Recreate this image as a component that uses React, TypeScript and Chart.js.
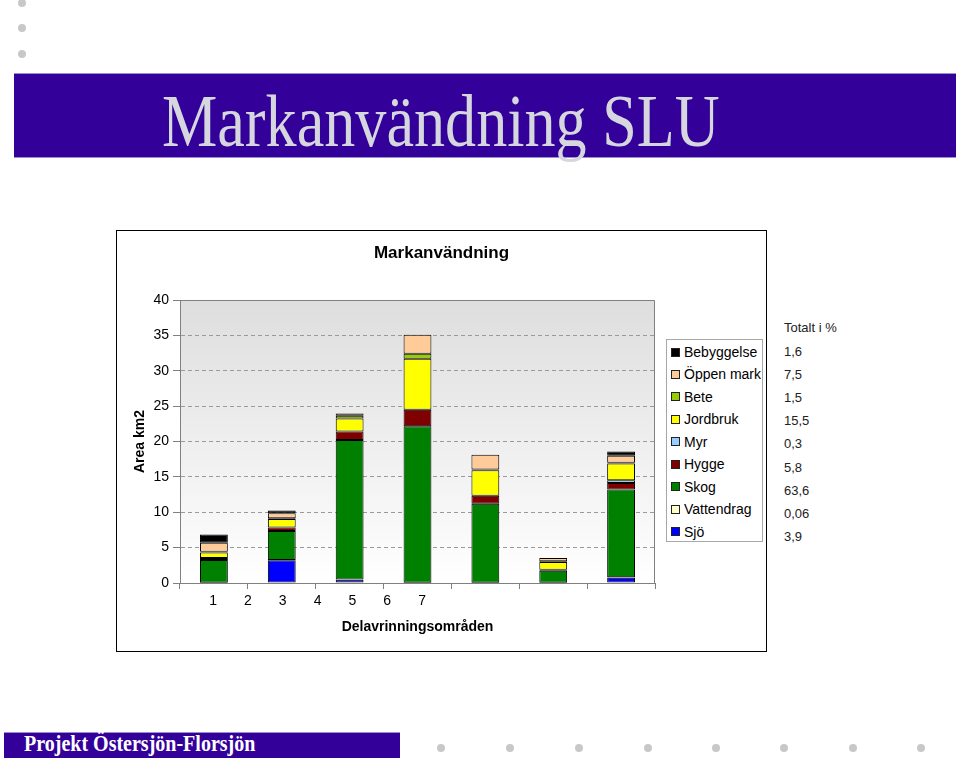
import React, { useEffect, useRef } from 'react';
import { Chart, registerables } from 'chart.js';

Chart.register(...registerables);

// ---- data ----
const categories = ['1', '2', '3', '4', '5', '6', '7'];
const xTickLabels = ['1', '2', '3', '4', '5', '6', '7'];

// stacked bottom -> top
const seriesNames = ['Sjö', 'Vattendrag', 'Skog', 'Hygge', 'Myr', 'Jordbruk', 'Bete', 'Öppen mark', 'Bebyggelse'];
const seriesColors = ['#0000FF', '#FFFFCC', '#008000', '#800000', '#99CCFF', '#FFFF00', '#99CC00', '#FFCC99', '#000000'];

const sjo = [0, 3.2, 0.45, 0, 0, 0, 0.75];
const vattendrag = [0.05, 0.05, 0.05, 0.05, 0.05, 0.03, 0.05];
const skog = [3.2, 4.1, 19.7, 22.1, 11.15, 1.7, 12.4];
const hygge = [0.3, 0.5, 1.2, 2.35, 1.13, 0.15, 0.95];
const myr = [0, 0, 0, 0, 0, 0, 0.38];
const jordbruk = [0.75, 1.2, 1.85, 7.2, 3.6, 1.1, 2.35];
const bete = [0.1, 0.1, 0.4, 0.7, 0.1, 0.1, 0.1];
const oppenMark = [1.3, 0.7, 0.3, 2.7, 2.1, 0.45, 1.0];
const bebyggelse = [1.15, 0.4, 0, 0, 0, 0, 0.6];

// legend order (top -> bottom) and "Totalt i %" column
const legendNames = ['Bebyggelse', 'Öppen mark', 'Bete', 'Jordbruk', 'Myr', 'Hygge', 'Skog', 'Vattendrag', 'Sjö'];
const totalPct = ['1,6', '7,5', '1,5', '15,5', '0,3', '5,8', '63,6', '0,06', '3,9'];

const yMin = 0;
const yMax = 40;
const yStep = 5;

const FONT = '"Liberation Sans", Arial, Helvetica, sans-serif';
const SERIF = '"Liberation Serif", "Times New Roman", serif';

export default function App() {
  const canvasRef = useRef<HTMLCanvasElement | null>(null);

  useEffect(() => {
    const canvas = canvasRef.current;
    if (!canvas) return;
    const seriesData = [sjo, vattendrag, skog, hygge, myr, jordbruk, bete, oppenMark, bebyggelse];

    const plotBg = {
      id: 'plotBg',
      beforeDraw(chart: any) {
        const { ctx, chartArea: a } = chart;
        const g = ctx.createLinearGradient(0, a.top, 0, a.bottom);
        g.addColorStop(0, '#DEDEDE');
        g.addColorStop(1, '#FFFFFF');
        ctx.save();
        ctx.fillStyle = g;
        ctx.fillRect(a.left, a.top, a.right - a.left, a.bottom - a.top);
        ctx.restore();
      },
      beforeDatasetsDraw(chart: any) {
        const { ctx, chartArea: a } = chart;
        ctx.save();
        ctx.strokeStyle = '#808080';
        ctx.lineWidth = 1;
        ctx.beginPath();
        ctx.moveTo(a.left, a.top + 0.5);
        ctx.lineTo(a.right - 0.5, a.top + 0.5);
        ctx.lineTo(a.right - 0.5, a.bottom);
        ctx.stroke();
        ctx.restore();
      },
    };

    const chart = new Chart(canvas, {
      type: 'bar',
      data: {
        labels: categories,
        datasets: seriesNames.map((name, i) => ({
          label: name,
          data: seriesData[i],
          backgroundColor: seriesColors[i],
          borderColor: '#000000',
          borderWidth: 1,
          borderSkipped: false,
          barPercentage: 0.41,
          categoryPercentage: 1,
          xAxisID: 'x',
          yAxisID: 'y',
        })),
      },
      options: {
        animation: false,
        responsive: false,
        maintainAspectRatio: false,
        layout: { padding: { top: 69, right: 111, bottom: 0, left: 0 } },
        plugins: {
          legend: { display: false },
          title: { display: false },
          tooltip: { enabled: false },
        },
        scales: {
          x: {
            type: 'category',
            stacked: true,
            position: 'bottom',
            offset: true,
            ticks: { display: false },
            grid: {
              offset: true,
              drawOnChartArea: false,
              drawTicks: true,
              tickLength: 6,
              tickColor: '#808080',
              color: '#808080',
            },
            border: { display: true, color: '#808080', width: 1 },
            afterFit(scale: any) {
              scale.height = 0;
            },
          },
          xl: {
            type: 'linear',
            axis: 'x',
            position: 'bottom',
            offset: false,
            min: 0.052,
            max: 13.688,
            grid: { display: false, drawTicks: false, offset: false },
            border: { display: false },
            afterBuildTicks(scale: any) {
              scale.ticks = xTickLabels.map((_, i) => ({ value: i + 1 }));
            },
            ticks: {
              autoSkip: false,
              padding: 10,
              color: '#000000',
              font: { family: FONT, size: 14 },
              maxRotation: 0,
              callback: (_v: any, index: number) => xTickLabels[index],
            },
            title: {
              display: true,
              text: 'Delavrinningsområden',
              color: '#000000',
              font: { family: FONT, size: 14, weight: 'bold' },
              padding: { top: 4, bottom: 15 },
            },
            afterFit(scale: any) {
              scale.height = 68;
            },
          },
          y: {
            type: 'linear',
            stacked: true,
            min: yMin,
            max: yMax,
            ticks: {
              stepSize: yStep,
              padding: 4,
              color: '#000000',
              font: { family: FONT, size: 14 },
            },
            grid: {
              color: (ctx: any) =>
                ctx.tick && (ctx.tick.value === yMin || ctx.tick.value === yMax) ? 'rgba(0,0,0,0)' : '#9A9A9A',
              lineWidth: 1,
              drawTicks: true,
              tickLength: 7,
              tickColor: '#808080',
              tickBorderDash: [],
            },
            border: { display: true, color: '#808080', width: 1, dash: [4, 3] },
            title: {
              display: true,
              text: 'Area km2',
              color: '#000000',
              font: { family: FONT, size: 14, weight: 'bold' },
              padding: { top: 15, bottom: 4 },
            },
            afterFit(scale: any) {
              scale.width = 63;
            },
          },
        },
      } as any,
      plugins: [plotBg],
    });

    return () => chart.destroy();
  }, []);

  const dot = (x: number, y: number, key: string) => (
    <div
      key={key}
      style={{
        position: 'absolute',
        left: x - 4,
        top: y - 4,
        width: 8,
        height: 8,
        borderRadius: '50%',
        background: '#C8C8C8',
      }}
    />
  );

  const topDots = [3, 28, 54];
  const bottomDots = [441, 510, 579, 648, 716, 784, 853, 921];

  return (
    <div
      style={{
        position: 'fixed',
        left: 0,
        top: 0,
        width: 960,
        height: 760,
        background: '#FFFFFF',
        overflow: 'hidden',
        fontFamily: FONT,
      }}
    >
      {topDots.map((y, i) => dot(22, y, 't' + i))}
      {bottomDots.map((x, i) => dot(x, 748, 'b' + i))}

      {/* title banner */}
      <div
        style={{
          position: 'absolute',
          left: 14,
          top: 73,
          width: 942,
          height: 85,
          background: '#330099',
          borderTop: '1px solid #9C8FD0',
          borderBottom: '1px solid #9C8FD0',
          boxSizing: 'border-box',
        }}
      />
      <div
        style={{
          position: 'absolute',
          left: 162,
          top: 81,
          fontFamily: SERIF,
          fontSize: 74,
          lineHeight: '80px',
          color: '#D6D6DE',
          whiteSpace: 'nowrap',
          transform: 'scaleX(0.84)',
          transformOrigin: 'left top',
        }}
      >
        Markanvändning SLU
      </div>

      {/* chart frame */}
      <div
        style={{
          position: 'absolute',
          left: 116,
          top: 230,
          width: 651,
          height: 422,
          border: '1.5px solid #000000',
          boxSizing: 'border-box',
          background: '#FFFFFF',
        }}
      />
      <canvas
        ref={canvasRef}
        width={649}
        height={420}
        style={{ position: 'absolute', left: 117, top: 231, width: 649, height: 420 }}
      />
      <div
        style={{
          position: 'absolute',
          left: 116,
          top: 243,
          width: 651,
          textAlign: 'center',
          fontFamily: FONT,
          fontSize: 17,
          fontWeight: 'bold',
          lineHeight: '20px',
          color: '#000000',
        }}
      >
        Markanvändning
      </div>

      {/* legend */}
      <div
        style={{
          position: 'absolute',
          left: 666,
          top: 339,
          width: 97,
          height: 203,
          border: '1px solid #A8A8A8',
          boxSizing: 'border-box',
          background: '#FFFFFF',
        }}
      >
        {legendNames.map((name, i) => {
          const idx = seriesNames.indexOf(name);
          return (
            <div
              key={name}
              style={{
                position: 'absolute',
                left: 4,
                top: 2 + i * 22.45,
                height: 20,
                display: 'flex',
                alignItems: 'center',
                whiteSpace: 'nowrap',
              }}
            >
              <span
                style={{
                  display: 'inline-block',
                  width: 9,
                  height: 9,
                  boxSizing: 'border-box',
                  border: '1px solid #222',
                  background: seriesColors[idx],
                  marginRight: 4,
                }}
              />
              <span style={{ fontSize: 14, color: '#000000', fontFamily: FONT }}>{name}</span>
            </div>
          );
        })}
      </div>

      {/* Totalt i % column */}
      <div
        style={{
          position: 'absolute',
          left: 784,
          top: 320,
          fontFamily: FONT,
          fontSize: 13,
          color: '#222222',
          lineHeight: '16px',
          whiteSpace: 'nowrap',
        }}
      >
        Totalt i %
      </div>
      {totalPct.map((t, i) => (
        <div
          key={'p' + i}
          style={{
            position: 'absolute',
            left: 784,
            top: 344 + i * 23.1,
            fontFamily: FONT,
            fontSize: 13,
            color: '#222222',
            lineHeight: '16px',
            whiteSpace: 'nowrap',
          }}
        >
          {t}
        </div>
      ))}

      {/* footer banner */}
      <div
        style={{
          position: 'absolute',
          left: 4,
          top: 732,
          width: 396,
          height: 26,
          background: '#330099',
          borderTop: '1px solid #9C8FD0',
          boxSizing: 'border-box',
        }}
      />
      <div
        style={{
          position: 'absolute',
          left: 24,
          top: 731,
          fontFamily: SERIF,
          fontSize: 23,
          fontWeight: 'bold',
          lineHeight: '26px',
          color: '#FFFFFF',
          whiteSpace: 'nowrap',
          transform: 'scaleX(0.87)',
          transformOrigin: 'left top',
        }}
      >
        Projekt Östersjön-Florsjön
      </div>
    </div>
  );
}
